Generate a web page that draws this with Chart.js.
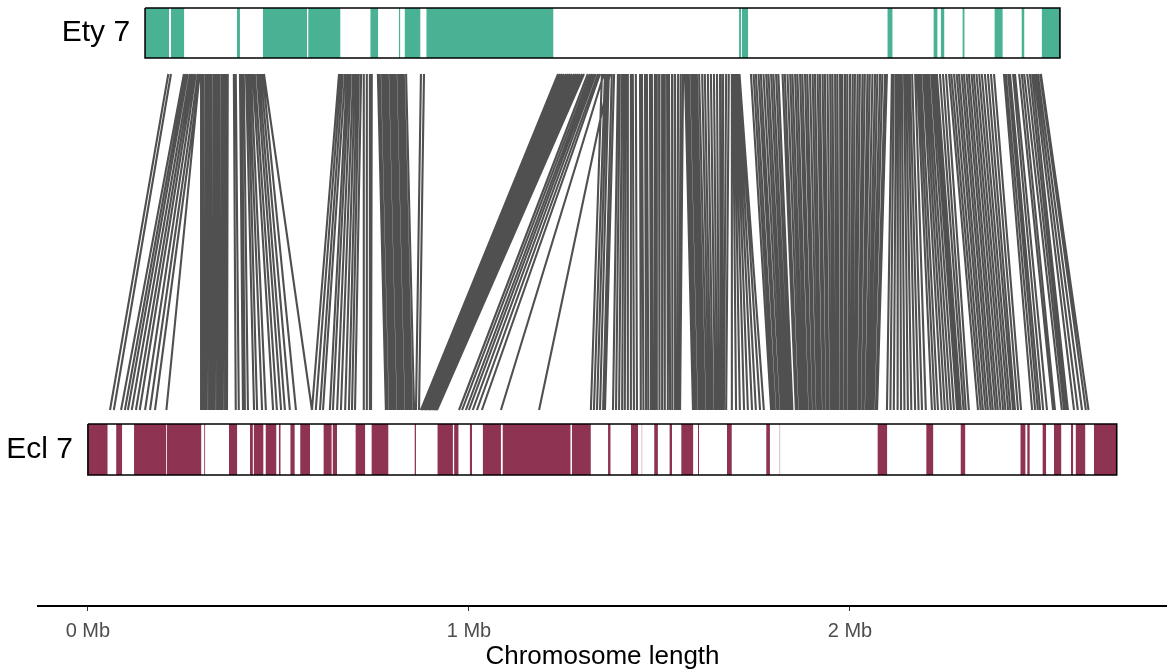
<!DOCTYPE html>
<html>
<head>
<meta charset="utf-8">
<script src="https://cdn.jsdelivr.net/npm/chart.js@4"></script>
<style>
  html, body { margin: 0; padding: 0; background: #fff; }
</style>
</head>
<body>
<canvas id="synteny" width="1167" height="670"></canvas>
<script>
// chromosome names and extents (Mb)
const chromNames = ['Ety 7', 'Ecl 7'];
const etyRange = [0.150, 2.551];
const eclRange = [0.000, 2.700];

// coloured blocks along each chromosome (Mb)
const etyStart = [0.151, 0.218, 0.391, 0.459, 0.578, 0.741, 0.816, 0.831, 0.888, 1.709, 1.716, 2.098, 2.219, 2.238, 2.295, 2.379, 2.450, 2.503];
const etyEnd   = [0.213, 0.253, 0.399, 0.575, 0.663, 0.762, 0.820, 0.873, 1.222, 1.714, 1.733, 2.112, 2.230, 2.248, 2.301, 2.401, 2.458, 2.551];

const eclStart = [0.000, 0.074, 0.121, 0.207, 0.305, 0.370, 0.425, 0.435, 0.466, 0.501, 0.531, 0.557, 0.618, 0.642, 0.702,
                  0.744, 0.857, 0.917, 0.961, 1.002, 1.036, 1.088, 1.270, 1.365, 1.425, 1.453, 1.486, 1.526, 1.557, 1.601,
                  1.677, 1.780, 1.815, 2.072, 2.200, 2.290, 2.447, 2.465, 2.505, 2.535, 2.580, 2.592, 2.640];
const eclEnd   = [0.052, 0.090, 0.206, 0.298, 0.308, 0.392, 0.433, 0.461, 0.495, 0.506, 0.543, 0.583, 0.640, 0.654, 0.728,
                  0.789, 0.861, 0.958, 0.973, 1.008, 1.084, 1.267, 1.320, 1.372, 1.444, 1.455, 1.496, 1.533, 1.589, 1.604,
                  1.690, 1.790, 1.817, 2.098, 2.219, 2.303, 2.461, 2.472, 2.515, 2.555, 2.586, 2.618, 2.700];

// syntenic links: position on Ety 7 -> position on Ecl 7 (Mb)
const linkTop = [
  0.211, 0.218,
  0.252, 0.257, 0.262, 0.268, 0.273, 0.278, 0.283, 0.289, 0.294,
  0.293,
  0.299, 0.304, 0.310, 0.315, 0.320, 0.325, 0.331, 0.336, 0.341, 0.346, 0.352, 0.357, 0.362, 0.367,
  0.383, 0.388,
  0.399, 0.404, 0.409, 0.415, 0.420,
  0.423, 0.428, 0.433, 0.438, 0.444, 0.449, 0.454, 0.459, 0.462,
  0.659, 0.664, 0.669, 0.675, 0.680, 0.685, 0.690, 0.696, 0.701, 0.706, 0.711, 0.717, 0.724, 0.732, 0.740, 0.745,
  0.761, 0.766, 0.772, 0.777, 0.782, 0.787, 0.793, 0.798, 0.803, 0.808, 0.814,
  0.819, 0.824, 0.829, 0.835,
  0.874, 0.882,
  1.234, 1.239, 1.244, 1.249, 1.255, 1.260, 1.265, 1.270, 1.276, 1.281, 1.286, 1.291, 1.297, 1.302,
  1.312, 1.318, 1.323, 1.328, 1.333, 1.339, 1.344,
  1.354, 1.370,
  1.349, 1.357, 1.362, 1.367, 1.375, 1.381,
  1.391, 1.396, 1.402, 1.407, 1.412, 1.417, 1.425,
  1.430, 1.438, 1.449, 1.454, 1.462, 1.467, 1.475, 1.480, 1.488, 1.493, 1.499, 1.507, 1.512, 1.520,
  1.525, 1.533, 1.541, 1.549, 1.556, 1.562,
  1.567, 1.572, 1.577, 1.583, 1.588, 1.593, 1.598, 1.604, 1.612, 1.619, 1.627, 1.635, 1.643, 1.651, 1.659, 1.667, 1.675, 1.682,
  1.690, 1.693, 1.696, 1.698, 1.701, 1.703, 1.706, 1.709, 1.710,
  1.740, 1.747, 1.753, 1.760, 1.766, 1.773, 1.780, 1.786, 1.793, 1.799,
  1.806, 1.812, 1.823, 1.829, 1.836, 1.843, 1.849, 1.856, 1.862, 1.869,
  1.875, 1.882, 1.888, 1.895, 1.902, 1.908, 1.915, 1.921, 1.928, 1.934,
  1.941, 1.948, 1.954, 1.961, 1.967, 1.974, 1.980, 1.987, 1.993, 2.000,
  2.007, 2.013, 2.020, 2.026, 2.033, 2.039, 2.046, 2.052, 2.059, 2.066,
  2.072, 2.079, 2.085, 2.092, 2.097,
  2.110, 2.115, 2.121, 2.126, 2.131, 2.136, 2.142, 2.147, 2.152, 2.157, 2.163, 2.171,
  2.176, 2.181, 2.186, 2.192, 2.197, 2.202, 2.207, 2.213, 2.218, 2.223,
  2.228, 2.236, 2.244, 2.252,
  2.260, 2.266, 2.273, 2.280, 2.286, 2.293, 2.299, 2.306, 2.312, 2.319, 2.325, 2.332, 2.339, 2.346, 2.354,
  2.362, 2.370, 2.378,
  2.404, 2.409, 2.415, 2.420, 2.428, 2.433,
  2.444, 2.451,
  2.457, 2.465, 2.472, 2.478,
  2.483, 2.488, 2.493, 2.499, 2.501
];
const linkBottom = [
  0.058, 0.068,
  0.087, 0.097, 0.105, 0.115, 0.126, 0.136, 0.150, 0.163, 0.176,
  0.206,
  0.297, 0.302, 0.307, 0.312, 0.318, 0.323, 0.328, 0.333, 0.339, 0.344, 0.349, 0.354, 0.360, 0.365,
  0.388, 0.396,
  0.407, 0.412, 0.420, 0.436, 0.444,
  0.457, 0.467, 0.486, 0.496, 0.507, 0.517, 0.530, 0.546, 0.588,
  0.588, 0.598, 0.609, 0.617, 0.635, 0.643, 0.654, 0.664, 0.675, 0.685, 0.693, 0.701, 0.724, 0.732, 0.740, 0.743,
  0.782, 0.787, 0.793, 0.798, 0.803, 0.808, 0.814, 0.819, 0.824, 0.829, 0.835,
  0.840, 0.845, 0.850, 0.856,
  0.861, 0.869,
  0.874, 0.877, 0.881, 0.885, 0.887, 0.891, 0.895, 0.898, 0.902, 0.906, 0.908, 0.911, 0.913, 0.916,
  0.974, 0.982, 0.992, 1.000, 1.010, 1.021, 1.034,
  1.084, 1.184,
  1.320, 1.328, 1.336, 1.344, 1.352, 1.357,
  1.378, 1.386, 1.394, 1.402, 1.409, 1.417, 1.425,
  1.433, 1.441, 1.451, 1.458, 1.465, 1.471, 1.478, 1.483, 1.488, 1.493, 1.500, 1.507, 1.514, 1.522,
  1.528, 1.534, 1.541, 1.546, 1.551, 1.554,
  1.588, 1.593, 1.598, 1.604, 1.609, 1.614, 1.619, 1.625, 1.630, 1.635, 1.640, 1.646, 1.651, 1.656, 1.661, 1.665, 1.669, 1.675,
  1.690, 1.701, 1.711, 1.722, 1.732, 1.743, 1.753, 1.764, 1.774,
  1.793, 1.798, 1.803, 1.809, 1.813, 1.819, 1.824, 1.829, 1.834, 1.839,
  1.844, 1.849, 1.858, 1.862, 1.868, 1.873, 1.878, 1.883, 1.888, 1.894,
  1.898, 1.904, 1.908, 1.914, 1.919, 1.924, 1.930, 1.934, 1.940, 1.944,
  1.950, 1.955, 1.960, 1.965, 1.970, 1.976, 1.980, 1.986, 1.990, 1.996,
  2.001, 2.006, 2.011, 2.016, 2.022, 2.026, 2.032, 2.036, 2.042, 2.047,
  2.052, 2.057, 2.062, 2.068, 2.071,
  2.097, 2.106, 2.115, 2.125, 2.134, 2.143, 2.152, 2.161, 2.171, 2.180, 2.189, 2.199,
  2.215, 2.223, 2.231, 2.241, 2.249, 2.257, 2.265, 2.273, 2.281, 2.286,
  2.291, 2.298, 2.304, 2.312,
  2.336, 2.343, 2.349, 2.356, 2.362, 2.369, 2.375, 2.382, 2.388, 2.395, 2.402, 2.408, 2.415, 2.421, 2.428,
  2.433, 2.441, 2.449,
  2.478, 2.486, 2.493, 2.499, 2.507, 2.517,
  2.533, 2.538,
  2.556, 2.562, 2.567, 2.572,
  2.588, 2.598, 2.609, 2.619, 2.626
];

const tickValues = [0, 1, 2];
const tickLabels = ['0 Mb', '1 Mb', '2 Mb'];

// vertical layout, in pixels from the top of the plot area
const etyBox = [8, 58];
const eclBox = [424, 475];
const linkY = [74, 410];

const fontFamily = '"Liberation Sans", Arial, Helvetica, sans-serif';
const etyColor = '#4ab294';
const eclColor = '#8f3353';

function blockSets(starts, ends, box, color) {
  return starts.map((s, i) => ({
    data: [{ x: s, y: box[0] }, { x: ends[i], y: box[0] }],
    fill: { value: box[1] },
    backgroundColor: color,
    borderWidth: 0,
    pointRadius: 0,
    order: 1
  }));
}

function outline(range, box) {
  return {
    data: [
      { x: range[0], y: box[0] }, { x: range[1], y: box[0] },
      { x: range[1], y: box[1] }, { x: range[0], y: box[1] },
      { x: range[0], y: box[0] }
    ],
    borderColor: '#000',
    borderWidth: 1.6,
    fill: false,
    pointRadius: 0,
    order: 0
  };
}

const linkPoints = [];
linkTop.forEach((t, i) => {
  linkPoints.push({ x: t, y: linkY[0] }, { x: linkBottom[i], y: linkY[1] }, { x: null, y: null });
});

const trackLabels = {
  id: 'trackLabels',
  afterDatasetsDraw(chart) {
    const { ctx, scales: { x, y } } = chart;
    ctx.save();
    ctx.font = '30px ' + fontFamily;
    ctx.fillStyle = '#000';
    ctx.textAlign = 'right';
    ctx.textBaseline = 'middle';
    ctx.fillText(chromNames[0], x.getPixelForValue(etyRange[0]) - 15, y.getPixelForValue((etyBox[0] + etyBox[1]) / 2));
    ctx.fillText(chromNames[1], x.getPixelForValue(eclRange[0]) - 15, y.getPixelForValue((eclBox[0] + eclBox[1]) / 2));
    ctx.restore();
  }
};

new Chart(document.getElementById('synteny').getContext('2d'), {
  type: 'line',
  data: {
    datasets: [
      { data: linkPoints, borderColor: '#505050', borderWidth: 2.1, pointRadius: 0, fill: false, spanGaps: false, order: 2 },
      ...blockSets(etyStart, etyEnd, etyBox, etyColor),
      ...blockSets(eclStart, eclEnd, eclBox, eclColor),
      outline(etyRange, etyBox),
      outline(eclRange, eclBox)
    ]
  },
  options: {
    responsive: false,
    devicePixelRatio: 1,
    animation: false,
    events: [],
    layout: { padding: { left: 38, right: 0, top: 0, bottom: 0 } },
    plugins: { legend: { display: false }, tooltip: { enabled: false } },
    scales: {
      x: {
        type: 'linear',
        min: -0.131,
        max: 2.832,
        afterBuildTicks: s => { s.ticks = tickValues.map(v => ({ value: v })); },
        afterFit: s => { s.height = 64; },
        ticks: {
          callback: (v, i) => tickLabels[i],
          color: '#4d4d4d',
          font: { family: fontFamily, size: 20 },
          padding: 8,
          maxRotation: 0,
          autoSkip: false
        },
        grid: { display: true, drawOnChartArea: false, drawTicks: true, tickLength: 5, color: '#333' },
        border: { display: true, color: '#000', width: 2 },
        title: {
          display: true,
          text: 'Chromosome length',
          color: '#000',
          font: { family: fontFamily, size: 26, lineHeight: 1.05 },
          padding: { top: 0, bottom: 0 }
        }
      },
      y: { type: 'linear', display: false, reverse: true, min: 0, max: 606 }
    }
  },
  plugins: [trackLabels]
});
</script>
</body>
</html>
